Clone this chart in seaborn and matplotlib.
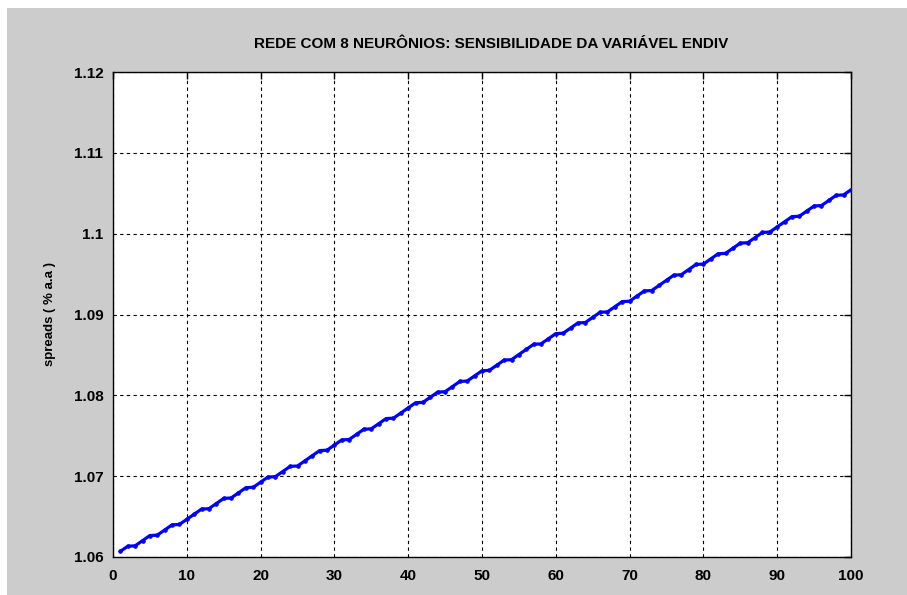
import matplotlib
matplotlib.use("Agg")
import matplotlib.pyplot as plt
from matplotlib.patches import Rectangle
import seaborn as sns
import pandas as pd

x_values = list(range(1, 101))
spreads = [
    1.060700, 1.061335, 1.061385, 1.062020, 1.062655, 1.062705, 1.063340, 1.063975, 1.064025, 1.064660,
    1.065295, 1.065930, 1.065980, 1.066615, 1.067250, 1.067300, 1.067935, 1.068570, 1.068620, 1.069255,
    1.069890, 1.069940, 1.070575, 1.071210, 1.071260, 1.071895, 1.072530, 1.073165, 1.073215, 1.073850,
    1.074485, 1.074535, 1.075170, 1.075805, 1.075855, 1.076490, 1.077125, 1.077175, 1.077810, 1.078445,
    1.079080, 1.079130, 1.079765, 1.080400, 1.080450, 1.081085, 1.081720, 1.081770, 1.082405, 1.083040,
    1.083090, 1.083725, 1.084360, 1.084410, 1.085045, 1.085680, 1.086315, 1.086365, 1.087000, 1.087635,
    1.087685, 1.088320, 1.088955, 1.089005, 1.089640, 1.090275, 1.090325, 1.090960, 1.091595, 1.091645,
    1.092280, 1.092915, 1.092965, 1.093600, 1.094235, 1.094870, 1.094920, 1.095555, 1.096190, 1.096240,
    1.096875, 1.097510, 1.097560, 1.098195, 1.098830, 1.098880, 1.099515, 1.100150, 1.100200, 1.100835,
    1.101470, 1.102105, 1.102155, 1.102790, 1.103425, 1.103475, 1.104110, 1.104745, 1.104795, 1.105430,
]
x_ticks = [0, 10, 20, 30, 40, 50, 60, 70, 80, 90, 100]
y_ticks = [1.06, 1.07, 1.08, 1.09, 1.10, 1.11, 1.12]
y_tick_labels = ["1.06", "1.07", "1.08", "1.09", "1.1", "1.11", "1.12"]
title = "REDE COM 8 NEURÔNIOS: SENSIBILIDADE DA VARIÁVEL ENDIV"
y_label = "spreads ( % a.a )"

df = pd.DataFrame({"x": x_values, "y": spreads})

sns.set_style("white")
plt.rcParams["font.family"] = ["Liberation Sans", "DejaVu Sans"]
plt.rcParams["text.color"] = "black"

fig = plt.figure(figsize=(9.07, 5.95), dpi=100)
fig.patch.set_facecolor("white")
fig.patches.append(Rectangle((7 / 907, 0), 1, 1 - 8 / 595, transform=fig.transFigure,
                             facecolor="#cccccc", edgecolor="none", zorder=-10))

ax = fig.add_axes([113 / 907, 1 - 557 / 595, (851 - 113) / 907, (557 - 72) / 595])
ax.set_facecolor("white")

sns.lineplot(data=df, x="x", y="y", ax=ax, color="#0000ff", linewidth=2.3,
             marker=".", markersize=5, markeredgecolor="#0000ff", zorder=3)

ax.set_xlim(0, 100)
ax.set_ylim(1.06, 1.12)
ax.set_xticks(x_ticks)
ax.set_xticklabels([str(t) for t in x_ticks], fontsize=11, fontweight="bold")
ax.set_yticks(y_ticks)
ax.set_yticklabels(y_tick_labels, fontsize=11, fontweight="bold")
ax.tick_params(direction="in", length=5, width=1, top=True, right=True, colors="black")
ax.tick_params(axis="x", pad=9)
ax.tick_params(axis="y", pad=7)

ax.grid(True, color="black", linestyle=(0, (3, 3)), linewidth=0.8)
for s in ax.spines.values():
    s.set_visible(True)
    s.set_color("black")
    s.set_linewidth(1.0)

ax.set_xlabel("")
ax.set_ylabel(y_label, fontsize=9.5, fontweight="bold", color="black")
ax.yaxis.set_label_coords((56 - 113) / 738, 0.5)

fig.text(491 / 907, 1 - 44 / 595, title, ha="center", va="center",
         fontsize=11, fontweight="bold", color="black")

fig.savefig("out.png", dpi=100)
